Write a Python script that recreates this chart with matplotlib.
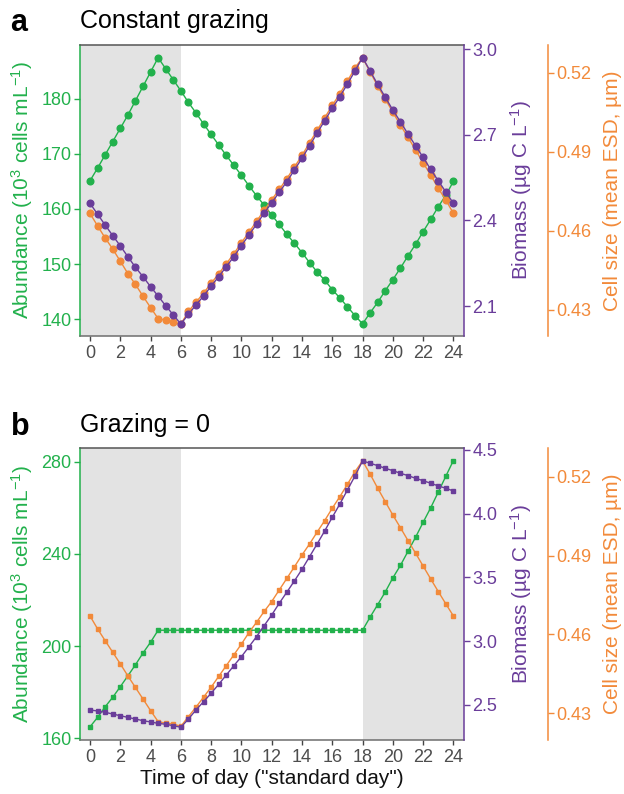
import matplotlib
matplotlib.use("Agg")
import matplotlib.pyplot as plt
from matplotlib.ticker import FormatStrFormatter

plt.rcParams['font.family'] = ['Liberation Sans', 'DejaVu Sans']
plt.rcParams['mathtext.fontset'] = 'custom'
plt.rcParams['mathtext.rm'] = 'Liberation Sans'
plt.rcParams['mathtext.it'] = 'Liberation Sans:italic'
plt.rcParams['mathtext.bf'] = 'Liberation Sans:bold'

# ---------------- data ----------------
hours = [0, 0.5, 1, 1.5, 2, 2.5, 3, 3.5, 4, 4.5, 5, 5.5, 6, 6.5, 7, 7.5, 8, 8.5,
         9, 9.5, 10, 10.5, 11, 11.5, 12, 12.5, 13, 13.5, 14, 14.5, 15, 15.5, 16,
         16.5, 17, 17.5, 18, 18.5, 19, 19.5, 20, 20.5, 21, 21.5, 22, 22.5, 23,
         23.5, 24]
x_ticks = [0, 2, 4, 6, 8, 10, 12, 14, 16, 18, 20, 22, 24]

# Panel a: constant grazing
a_abundance = [165.1, 167.4, 169.8, 172.2, 174.6, 177.0, 179.6, 182.2, 184.8, 187.4,
               185.4, 183.4, 181.4, 179.3, 177.4, 175.4, 173.5, 171.6, 169.7, 167.9,
               166.1, 164.2, 162.4, 160.7, 158.9, 157.2, 155.4, 153.8, 152.1, 150.3,
               148.6, 147.1, 145.4, 143.9, 142.3, 140.7, 139.2, 141.2, 143.1, 145.2,
               147.2, 149.3, 151.5, 153.6, 155.9, 158.1, 160.4, 162.5, 165.0]
a_biomass = [2.460, 2.422, 2.384, 2.347, 2.311, 2.273, 2.236, 2.203, 2.168, 2.135,
             2.101, 2.069, 2.037, 2.071, 2.104, 2.135, 2.170, 2.203, 2.238, 2.273,
             2.312, 2.349, 2.387, 2.425, 2.462, 2.499, 2.536, 2.577, 2.618, 2.662,
             2.706, 2.750, 2.793, 2.834, 2.878, 2.924, 2.971, 2.924, 2.877, 2.832,
             2.787, 2.746, 2.703, 2.662, 2.621, 2.579, 2.539, 2.500, 2.460]
a_cellsize = [0.4666, 0.4619, 0.4573, 0.4531, 0.4485, 0.4438, 0.4397, 0.4352, 0.4309,
              0.4267, 0.4261, 0.4255, 0.4246, 0.4294, 0.4329, 0.4364, 0.4401, 0.4437,
              0.4475, 0.4513, 0.4555, 0.4595, 0.4636, 0.4678, 0.4718, 0.4757, 0.4798,
              0.4842, 0.4886, 0.4934, 0.4981, 0.5029, 0.5076, 0.5120, 0.5168, 0.5218,
              0.5257, 0.5203, 0.5149, 0.5100, 0.5050, 0.5001, 0.4955, 0.4907, 0.4858,
              0.4812, 0.4761, 0.4717, 0.4666]

# Panel b: grazing = 0
b_abundance = [165.0, 169.1, 173.7, 177.8, 182.4, 187.1, 191.9, 197.0, 201.7, 206.9,
               206.9, 206.9, 206.9, 206.9, 206.9, 206.9, 206.9, 206.9, 206.9, 206.9,
               206.9, 206.9, 206.9, 206.9, 206.9, 206.9, 206.9, 206.9, 206.9, 206.9,
               206.9, 206.9, 206.9, 206.9, 206.9, 206.9, 206.9, 212.6, 218.0, 223.5,
               229.6, 235.0, 241.1, 247.2, 253.7, 260.0, 266.8, 273.7, 280.5]
b_biomass = [2.461, 2.453, 2.443, 2.429, 2.416, 2.403, 2.390, 2.377, 2.367, 2.356,
             2.349, 2.338, 2.325, 2.390, 2.461, 2.526, 2.592, 2.662, 2.735, 2.808,
             2.879, 2.957, 3.036, 3.122, 3.206, 3.298, 3.385, 3.473, 3.564, 3.663,
             3.763, 3.865, 3.972, 4.076, 4.186, 4.296, 4.414, 4.396, 4.377, 4.356,
             4.338, 4.317, 4.299, 4.278, 4.259, 4.239, 4.218, 4.200, 4.178]
b_cellsize = [0.4670, 0.4621, 0.4576, 0.4532, 0.4488, 0.4442, 0.4398, 0.4354, 0.4310,
              0.4268, 0.4262, 0.4259, 0.4250, 0.4287, 0.4323, 0.4361, 0.4399, 0.4440,
              0.4481, 0.4522, 0.4563, 0.4607, 0.4646, 0.4687, 0.4725, 0.4769, 0.4813,
              0.4857, 0.4902, 0.4944, 0.4989, 0.5033, 0.5080, 0.5124, 0.5171, 0.5219,
              0.5260, 0.5210, 0.5156, 0.5105, 0.5054, 0.5006, 0.4957, 0.4909, 0.4860,
              0.4811, 0.4763, 0.4716, 0.4670]

a_ab_ticks = [140, 150, 160, 170, 180]
a_bm_ticks = [2.1, 2.4, 2.7, 3.0]
b_ab_ticks = [160, 200, 240, 280]
b_bm_ticks = [2.5, 3.0, 3.5, 4.0, 4.5]
cs_ticks = [0.43, 0.46, 0.49, 0.52]

# ---------------- style ----------------
GREEN = '#22b14c'
PURPLE = '#6a3d9a'
ORANGE = '#f28a3a'
SHADE = '#e3e3e3'
DARK = '#555555'
W, H = 624, 794

fig = plt.figure(figsize=(W / 100, H / 100), dpi=100)

XLIM = (-0.66, 24.7)


def panel(top_px, bottom_px, ab, bm, cs, ab_lim, bm_lim, cs_lim,
          ab_ticks, bm_ticks, marker, ms, xlabel=None):
    left_px, right_px = 80, 464
    rect = [left_px / W, 1 - bottom_px / H, (right_px - left_px) / W,
            (bottom_px - top_px) / H]
    ax = fig.add_axes(rect)
    ax.set_xlim(*XLIM)
    ax.axvspan(XLIM[0], 6, color=SHADE, lw=0, zorder=0)
    ax.axvspan(18, XLIM[1], color=SHADE, lw=0, zorder=0)
    ax.plot(hours, ab, color=GREEN, marker=marker, ms=ms, lw=1.0, zorder=3,
            clip_on=False)
    ax.set_ylim(*ab_lim)
    ax.set_yticks(ab_ticks)
    ax.set_xticks(x_ticks)
    ax.yaxis.set_major_formatter(FormatStrFormatter('%d'))

    axo = ax.twinx()
    # 84 px outward at 100 dpi = 60.5 pt
    axo.spines['right'].set_position(('outward', 60.5))
    axo.plot(hours, cs, color=ORANGE, marker=marker, ms=ms, lw=1.0, zorder=3)
    axo.set_ylim(*cs_lim)
    axo.set_yticks(cs_ticks)
    axo.yaxis.set_major_formatter(FormatStrFormatter('%.2f'))

    axp = ax.twinx()
    axp.plot(hours, bm, color=PURPLE, marker=marker, ms=ms, lw=1.0, zorder=3)
    axp.set_ylim(*bm_lim)
    axp.set_yticks(bm_ticks)
    axp.yaxis.set_major_formatter(FormatStrFormatter('%.1f'))

    # spines
    ax.spines['right'].set_visible(False)
    ax.spines['left'].set_color(GREEN)
    ax.spines['top'].set_color(DARK)
    ax.spines['bottom'].set_color('#6e6e6e')
    for s in ['left', 'top', 'bottom']:
        ax.spines[s].set_linewidth(1.1)
    for t, c in [(axo, ORANGE), (axp, PURPLE)]:
        for s in ['left', 'top', 'bottom']:
            t.spines[s].set_visible(False)
        t.spines['right'].set_color(c)
        t.spines['right'].set_linewidth(1.1)

    ax.tick_params(axis='x', color='#444444', labelcolor='#4d4d4d', length=3.5,
                   width=1.0, labelsize=13, pad=3)
    ax.tick_params(axis='y', color=GREEN, labelcolor=GREEN, length=4,
                   width=1.0, labelsize=13, pad=2)
    axo.tick_params(axis='y', color=ORANGE, labelcolor=ORANGE, length=4,
                    width=1.0, labelsize=13, pad=2)
    axp.tick_params(axis='y', color=PURPLE, labelcolor=PURPLE, length=4,
                    width=1.0, labelsize=13, pad=2)

    wpx = right_px - left_px
    ax.set_ylabel(r'Abundance (10$^{3}$ cells mL$^{-1}$)', color=GREEN,
                  fontsize=15)
    ax.yaxis.set_label_coords((35 - left_px) / wpx, 0.5)
    axp.set_ylabel(r'Biomass (µg C L$^{-1}$)', color=PURPLE, fontsize=15)
    axp.yaxis.set_label_coords((508 - left_px) / wpx, 0.5)
    axo.set_ylabel('Cell size (mean ESD, µm)', color=ORANGE, fontsize=15)
    axo.yaxis.set_label_coords((603 - left_px) / wpx, 0.5)

    if xlabel:
        ax.set_xlabel(xlabel, fontsize=15, color='#111111', labelpad=2)
    return ax


panel(45, 336, a_abundance, a_biomass, a_cellsize,
      (137.0, 189.7), (1.995, 3.015), (0.4201, 0.5305),
      a_ab_ticks, a_bm_ticks, 'o', 4.8)
panel(448.3, 740, b_abundance, b_biomass, b_cellsize,
      (159.3, 285.8), (2.2255, 4.513), (0.4198, 0.5308),
      b_ab_ticks, b_bm_ticks, 's', 3.0,
      xlabel='Time of day ("standard day")')

fig.text(10 / W, 1 - 31 / H, 'a', fontsize=22, fontweight='bold', va='baseline')
fig.text(80 / W, 1 - 28 / H, 'Constant grazing', fontsize=18, va='baseline')
fig.text(11 / W, 1 - 435 / H, 'b', fontsize=22, fontweight='bold', va='baseline')
fig.text(80 / W, 1 - 432 / H, 'Grazing = 0', fontsize=18, va='baseline')

fig.savefig('out.png', dpi=100)
